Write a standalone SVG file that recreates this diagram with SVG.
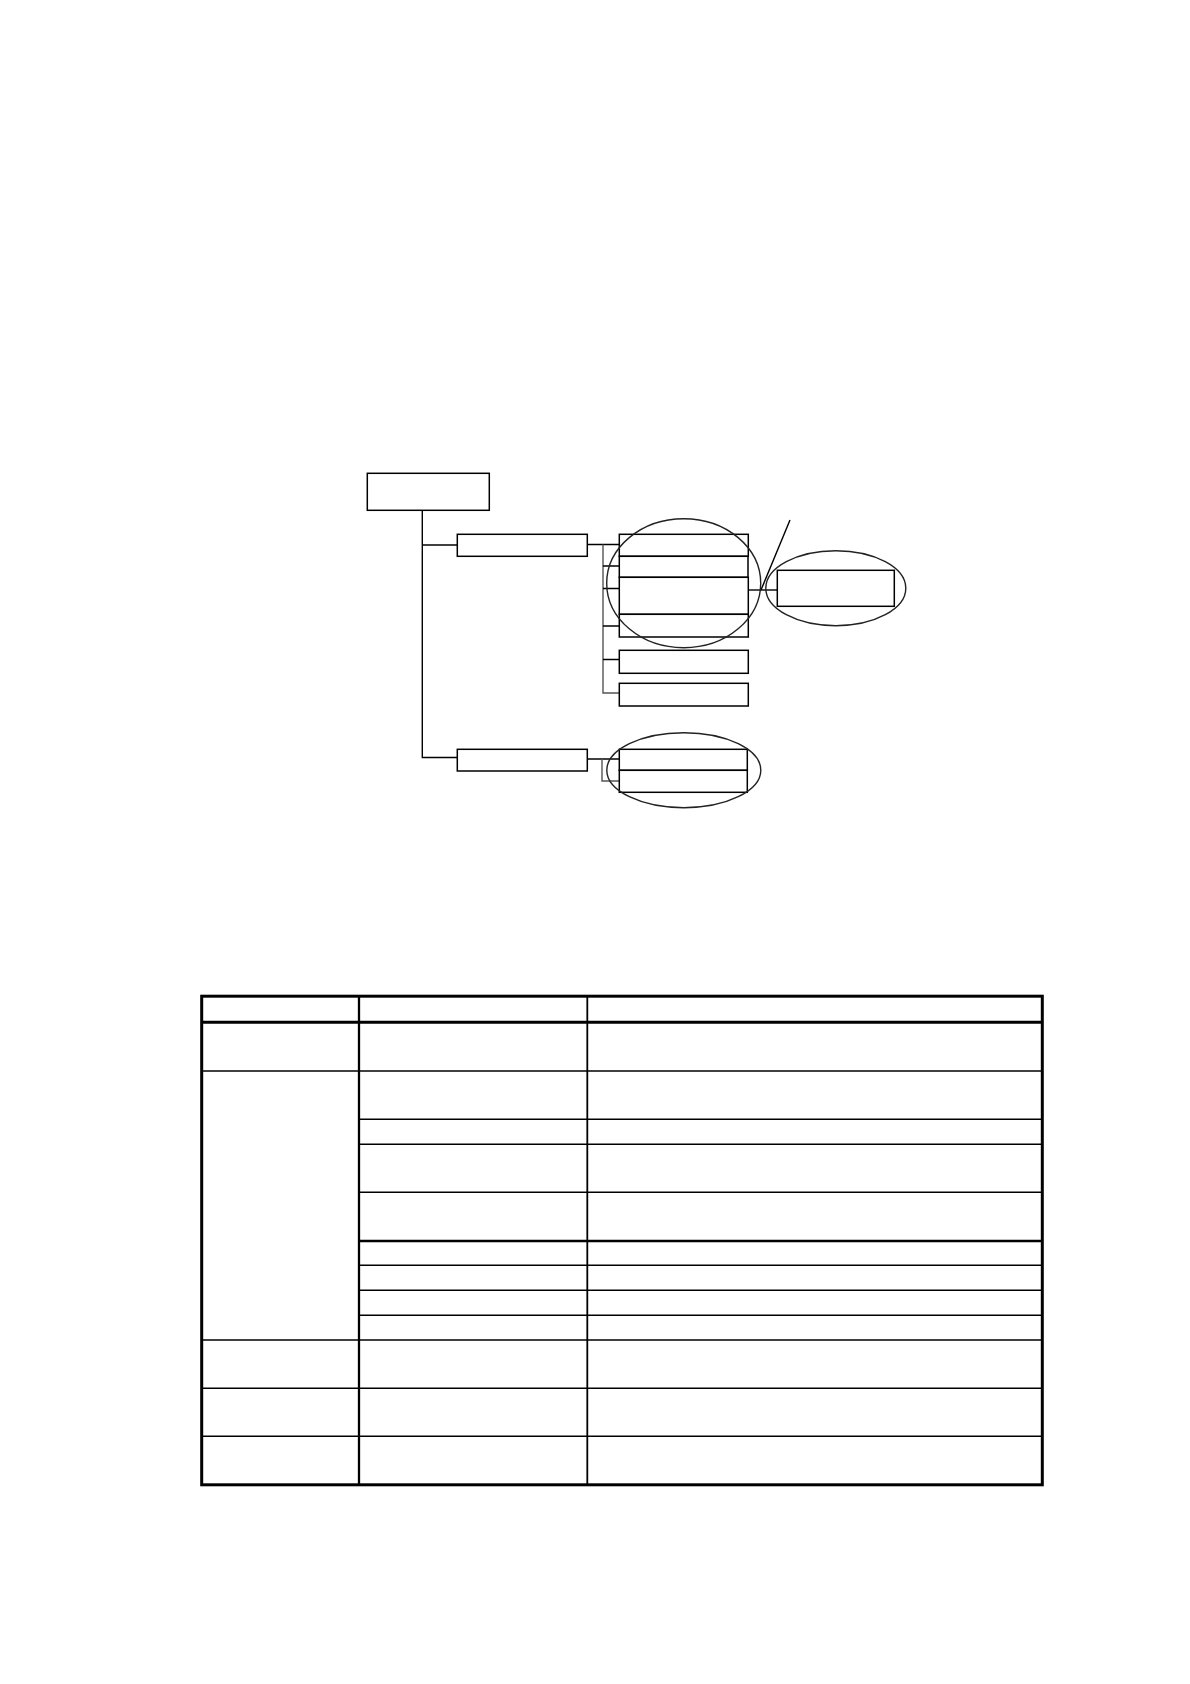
<svg xmlns="http://www.w3.org/2000/svg" width="1190" height="1684" viewBox="0 0 1190 1684">
<style>
.box{fill:#fff;stroke:#000;stroke-width:1.5}
.ln{fill:none;stroke:#000;stroke-width:1.4}
.br{fill:none;stroke:#555;stroke-width:1.4}
.ell{fill:none;stroke:#222;stroke-width:1.4}
.t1{stroke:#000;stroke-width:1.5}
.t2{stroke:#000;stroke-width:2.3}
.t3{stroke:#000;stroke-width:3}
</style>
<rect width="1190" height="1684" fill="#fff"/>
<g id="connectors">
<path class="ln" d="M422.3 510 V757.5 H457.3"/>
<path class="ln" d="M422.3 545 H457.3"/>
<path class="ln" d="M587.3 544.5 H619.3"/>
<path class="br" d="M603 544.5 V693 H619.3"/>
<path class="ln" d="M603 566 H619.3 M603 588.5 H619.3 M603 626 H619.3 M603 659.5 H619.3"/>
<path class="ln" d="M587.3 759 H619.3"/>
<path class="br" d="M602 759 V781 H619.3"/>
<path class="ln" d="M748 590 H777.3"/>
<path class="ln" d="M790 520 L761 590"/>
</g>
<g id="n-root"><rect class="box" x="367.3" y="473.3" width="122" height="37"/></g>
<g id="n-branch1"><rect class="box" x="457.3" y="534.3" width="130" height="22"/></g>
<g id="n-branch2"><rect class="box" x="457.3" y="749.3" width="130" height="21.7"/></g>
<g id="n-a"><rect class="box" x="619.3" y="534.3" width="129" height="22"/></g>
<g id="n-b"><rect class="box" x="619.3" y="556.3" width="128.7" height="21"/></g>
<g id="n-c"><rect class="box" x="619.3" y="577.3" width="129" height="37"/></g>
<g id="n-d"><rect class="box" x="619.3" y="614.3" width="129" height="22.7"/></g>
<g id="n-e"><rect class="box" x="619.3" y="650.3" width="129" height="23"/></g>
<g id="n-f"><rect class="box" x="619.3" y="683.3" width="129" height="22.7"/></g>
<g id="n-g"><rect class="box" x="619.3" y="749.3" width="128" height="21"/></g>
<g id="n-h"><rect class="box" x="619.3" y="770.3" width="128" height="22"/></g>
<g id="n-right"><rect class="box" x="777.3" y="570.3" width="117" height="36"/></g>
<g id="ellipses">
<ellipse class="ell" cx="683.7" cy="583.2" rx="77" ry="64.5"/>
<ellipse class="ell" cx="835.8" cy="588.2" rx="70" ry="37.5"/>
<ellipse class="ell" cx="683.8" cy="770.2" rx="77" ry="37.5"/>
</g>
<g id="table">
<g class="t1">
<line x1="201.7" y1="1071" x2="1042" y2="1071"/>
<line x1="359" y1="1119.3" x2="1042" y2="1119.3"/>
<line x1="359" y1="1144.3" x2="1042" y2="1144.3"/>
<line x1="359" y1="1192.3" x2="1042" y2="1192.3"/>
<line x1="359" y1="1265.3" x2="1042" y2="1265.3"/>
<line x1="359" y1="1290.3" x2="1042" y2="1290.3"/>
<line x1="359" y1="1315.3" x2="1042" y2="1315.3"/>
<line x1="201.7" y1="1340" x2="1042" y2="1340"/>
<line x1="201.7" y1="1388.3" x2="1042" y2="1388.3"/>
<line x1="201.7" y1="1436.3" x2="1042" y2="1436.3"/>
</g>
<line class="t2" x1="359" y1="1241" x2="1042" y2="1241"/>
<line class="t2" x1="359" y1="996" x2="359" y2="1485"/>
<line stroke="#000" stroke-width="1.8" x1="587.3" y1="996" x2="587.3" y2="1485"/>
<line class="t3" x1="201.7" y1="1022.2" x2="1042.3" y2="1022.2"/>
<rect x="201.7" y="996.2" width="840.6" height="488.6" fill="none" stroke="#000" stroke-width="3"/>
</g>
</svg>
